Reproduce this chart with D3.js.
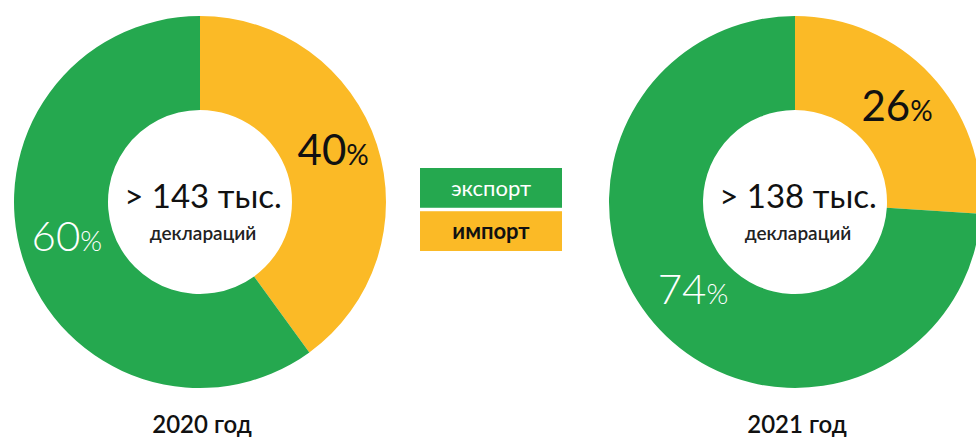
<!DOCTYPE html>
<html>
<head>
<meta charset="utf-8">
<script src="https://cdn.jsdelivr.net/npm/d3@7"></script>
<style>
    body { margin: 0; background: #fff; }
    svg { display: block; font-family: Lato, "Open Sans", sans-serif; }
</style>
</head>
<body>
<svg id="chart" width="976" height="441"></svg>
<script>
    // data
    let years = ["2020 год", "2021 год"]
    let totals = ["> 143 тыс.", "> 138 тыс."]
    let importShare = [40, 26]
    let exportShare = [60, 74]
    let seriesNames = ["импорт", "экспорт"]
    let seriesColors = ["#fbba26", "#25a84f"]
    let subLabel = "деклараций"

    let svg = d3.select("#chart")
    let centers = [200, 795]
    let cy = 202
    let outerR = 186
    let innerR = 92

    let pie = d3.pie().sort(null).value(d => d.value)
    let arc = d3.arc().innerRadius(innerR).outerRadius(outerR)
    let labelArc = d3.arc().innerRadius(140).outerRadius(140)
    let color = d3.scaleOrdinal().domain(seriesNames).range(seriesColors)
    let textColor = { "импорт": "#111", "экспорт": "#fff" }
    let weight = { "импорт": 400, "экспорт": 300 }

    years.forEach((year, i) => {
        let data = [
            { name: "импорт", value: importShare[i] },
            { name: "экспорт", value: exportShare[i] }
        ]
        let g = svg.append("g").attr("transform", `translate(${centers[i]},${cy})`)

        g.selectAll("path")
            .data(pie(data))
            .enter()
            .append("path")
            .attr("d", arc)
            .attr("fill", d => color(d.data.name))

        let lbl = g.selectAll(".pct")
            .data(pie(data))
            .enter()
            .append("text")
            .attr("class", "pct")
            .attr("transform", d => {
                let [x, y] = labelArc.centroid(d)
                // small slices sit a bit lower in the original
                if (d.endAngle - d.startAngle < 2) y += 9
                return `translate(${x},${y})`
            })
            .attr("text-anchor", "middle")
            .attr("dy", "0.36em")
            .attr("fill", d => textColor[d.data.name])
            .style("font-weight", d => weight[d.data.name])
        lbl.append("tspan").style("font-size", "42px").text(d => d.data.value)
        lbl.append("tspan").style("font-size", "28px").text("%")

        // center text
        g.append("text")
            .attr("x", 3)
            .attr("y", 6)
            .attr("text-anchor", "middle")
            .style("font-size", "33px")
            .attr("fill", "#111")
            .text(totals[i])
        g.append("text")
            .attr("x", 3)
            .attr("y", 38)
            .attr("text-anchor", "middle")
            .style("font-size", "19px")
            .style("font-weight", 600)
            .attr("fill", "#222")
            .text(subLabel)

        // year caption
        svg.append("text")
            .attr("x", centers[i] + 2)
            .attr("y", 433)
            .attr("text-anchor", "middle")
            .style("font-size", "24px")
            .style("font-weight", 600)
            .attr("fill", "#111")
            .text(year)
    })

    // legend
    let legend = svg.append("g").attr("transform", "translate(420,168)")
    let legendItems = ["экспорт", "импорт"]
    let ly = d3.scaleBand().domain(legendItems).range([0, 83]).paddingInner(0.08)
    legend.selectAll("rect")
        .data(legendItems)
        .enter()
        .append("rect")
        .attr("x", 0)
        .attr("y", d => ly(d))
        .attr("width", 142)
        .attr("height", ly.bandwidth())
        .attr("fill", d => color(d))
    legend.selectAll("text")
        .data(legendItems)
        .enter()
        .append("text")
        .attr("x", 71)
        .attr("y", d => ly(d) + ly.bandwidth() / 2)
        .attr("dy", "0.35em")
        .attr("text-anchor", "middle")
        .style("font-size", "22px")
        .style("font-weight", d => d == "импорт" ? 700 : 400)
        .attr("fill", d => textColor[d])
        .text(d => d)
</script>
</body>
</html>
